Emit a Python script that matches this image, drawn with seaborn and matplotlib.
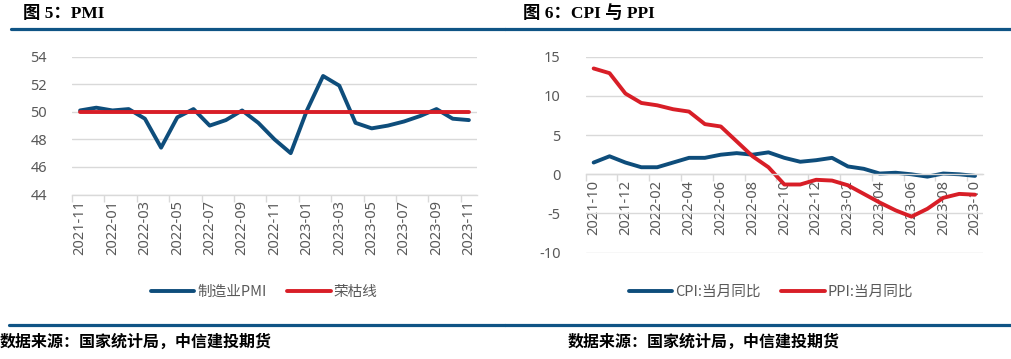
import matplotlib
matplotlib.use("Agg")
import matplotlib.pyplot as plt
import seaborn as sns
import pandas as pd
import numpy as np
from matplotlib.lines import Line2D

# 数据
pmi_months = ["2021-11", "2021-12", "2022-01", "2022-02", "2022-03", "2022-04", "2022-05",
              "2022-06", "2022-07", "2022-08", "2022-09", "2022-10", "2022-11", "2022-12",
              "2023-01", "2023-02", "2023-03", "2023-04", "2023-05", "2023-06", "2023-07",
              "2023-08", "2023-09", "2023-10", "2023-11"]
pmi_values = [50.1, 50.3, 50.1, 50.2, 49.5, 47.4, 49.6, 50.2, 49.0, 49.4, 50.1, 49.2, 48.0,
              47.0, 50.1, 52.6, 51.9, 49.2, 48.8, 49.0, 49.3, 49.7, 50.2, 49.5, 49.4]
rongku = [50] * len(pmi_months)

cpi_months = ["2021-10", "2021-11", "2021-12", "2022-01", "2022-02", "2022-03", "2022-04",
              "2022-05", "2022-06", "2022-07", "2022-08", "2022-09", "2022-10", "2022-11",
              "2022-12", "2023-01", "2023-02", "2023-03", "2023-04", "2023-05", "2023-06",
              "2023-07", "2023-08", "2023-09", "2023-10"]
cpi_values = [1.5, 2.3, 1.5, 0.9, 0.9, 1.5, 2.1, 2.1, 2.5, 2.7, 2.5, 2.8, 2.1, 1.6, 1.8,
              2.1, 1.0, 0.7, 0.1, 0.2, 0.0, -0.3, 0.1, 0.0, -0.2]
ppi_values = [13.5, 12.9, 10.3, 9.1, 8.8, 8.3, 8.0, 6.4, 6.1, 4.2, 2.3, 0.9, -1.3, -1.3,
              -0.7, -0.8, -1.4, -2.5, -3.6, -4.6, -5.4, -4.4, -3.0, -2.5, -2.6]

BLUE = "#0E4D7B"
RED = "#D81E27"
HEAD = "#0F5485"
GRID = "#D9D9D9"
TICK = "#595959"

sns.set_theme(style="white")
plt.rcParams['font.family'] = ['Noto Sans CJK SC', 'DejaVu Sans']
plt.rcParams['axes.unicode_minus'] = False

W, H = 1011, 359
fig = plt.figure(figsize=(W / 100, H / 100), dpi=100)


def px_axes(x0, y_top, x1, y_bot):
    return fig.add_axes([x0 / W, 1 - y_bot / H, (x1 - x0) / W, (y_bot - y_top) / H])


def style_axis(ax, n, labels, yticks):
    ax.set_xlim(-0.5, n - 0.5)
    ax.set_xticks(range(0, n, 2))
    ax.set_xticklabels(labels[::2], rotation=90, fontsize=10.5, color=TICK,
                       family=['Noto Sans', 'DejaVu Sans'])
    ax.set_xticks(np.arange(-0.5, n, 2), minor=True)
    ax.tick_params(axis='x', which='major', length=0, pad=4)
    ax.tick_params(axis='x', which='minor', length=5, color=GRID, width=1, direction='out',
                   bottom=True)
    ax.set_yticks(yticks)
    ax.set_yticklabels([str(v) for v in yticks], fontsize=10.5, color=TICK,
                       family=['Noto Sans', 'DejaVu Sans'])
    ax.tick_params(axis='y', length=0, pad=18)
    ax.grid(axis='y', color=GRID, linewidth=1)
    ax.set_axisbelow(True)
    for s in ['top', 'right', 'left']:
        ax.spines[s].set_visible(False)
    ax.spines['bottom'].set_color(GRID)
    ax.spines['bottom'].set_linewidth(1)
    ax.set_xlabel("")
    ax.set_ylabel("")


# 图5 PMI
ax1 = px_axes(72, 56.7, 477, 194.5)
df1 = pd.DataFrame({"x": range(len(pmi_months)), "制造业PMI": pmi_values, "荣枯线": rongku})
sns.lineplot(data=df1, x="x", y="制造业PMI", ax=ax1, color=BLUE, linewidth=2.8,
             label="制造业PMI", legend=False)
sns.lineplot(data=df1, x="x", y="荣枯线", ax=ax1, color=RED, linewidth=2.8,
             label="荣枯线", legend=False)
ax1.set_ylim(44, 54)
style_axis(ax1, len(pmi_months), pmi_months, [44, 46, 48, 50, 52, 54])
ax1.legend(loc='center', bbox_to_anchor=(264 / W, 1 - 292 / H), bbox_transform=fig.transFigure,
           ncol=2, frameon=False, fontsize=10.5, handlelength=3.0, handletextpad=0.2,
           columnspacing=1.4, labelcolor=TICK)

# 图6 CPI 与 PPI
ax2 = px_axes(585.7, 56.7, 983, 252.7)
df2 = pd.DataFrame({"x": range(len(cpi_months)), "CPI": cpi_values, "PPI": ppi_values})
sns.lineplot(data=df2, x="x", y="CPI", ax=ax2, color=BLUE, linewidth=2.8,
             label="CPI:当月同比", legend=False)
sns.lineplot(data=df2, x="x", y="PPI", ax=ax2, color=RED, linewidth=2.8,
             label="PPI:当月同比", legend=False)
ax2.set_ylim(-10, 15)
ax2.spines['bottom'].set_position(('data', 0))
style_axis(ax2, len(cpi_months), cpi_months, [-10, -5, 0, 5, 10, 15])
ax2.legend(loc='center', bbox_to_anchor=(771 / W, 1 - 292 / H), bbox_transform=fig.transFigure,
           ncol=2, frameon=False, fontsize=10.5, handlelength=3.0, handletextpad=0.2,
           columnspacing=1.4, labelcolor=TICK)

# 标题、分隔线与来源
title_font = dict(fontsize=12.5, fontweight='bold', color='black',
                  family=['Liberation Serif', 'Noto Sans CJK SC'], va='center', ha='left')
fig.text(23 / W, 1 - 14 / H, "图 5：PMI", **title_font)
fig.text(523 / W, 1 - 14 / H, "图 6：CPI 与 PPI", **title_font)

for x0, x1 in [(11, 505), (505, 1011)]:
    fig.add_artist(Line2D([x0 / W, x1 / W], [1 - 29 / H, 1 - 29 / H], color=HEAD,
                          linewidth=2.3, transform=fig.transFigure))
for x0, x1 in [(9, 505), (505, 1011)]:
    fig.add_artist(Line2D([x0 / W, x1 / W], [1 - 325 / H, 1 - 325 / H], color=HEAD,
                          linewidth=2.3, transform=fig.transFigure))

src_font = dict(fontsize=11.5, fontweight='bold', fontstyle='italic', color='black',
                va='center', ha='left')
fig.text(0 / W, 1 - 342 / H, "数据来源：国家统计局，中信建投期货", **src_font)
fig.text(568 / W, 1 - 342 / H, "数据来源：国家统计局，中信建投期货", **src_font)

fig.savefig("out.png", dpi=100)
